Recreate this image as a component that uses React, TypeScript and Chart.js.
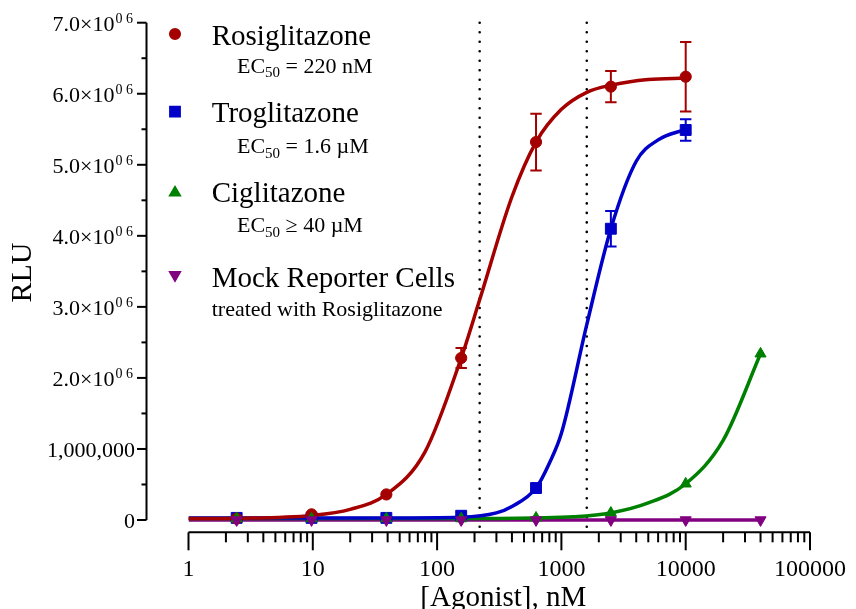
import React, { useEffect, useRef } from "react";
import { Chart, registerables } from "chart.js";
import { drawPoint } from "chart.js/helpers";
Chart.register(...registerables);

// ---------- data ----------
const concentrations = [2.44, 9.77, 39.06, 156.25, 625, 2500, 10000, 40000];

const rosiglitazoneRLU = [20000, 80000, 360000, 2280000, 5320000, 6100000, 6240000];
const rosiglitazoneSD = [0, 0, 0, 140000, 400000, 220000, 490000];
const troglitazoneRLU = [30000, 30000, 30000, 60000, 450000, 4100000, 5490000];
const troglitazoneSD = [0, 0, 0, 0, 0, 250000, 150000];
const ciglitazoneRLU = [20000, 20000, 20000, 20000, 30000, 100000, 510000, 2340000];
const mockRLU = [0, 0, 0, 0, 0, 0, 0, 0];

// fitted curves
const rosiCurveX = [1, 2.44, 9.77, 20, 39.06, 80, 156.25, 220, 400, 625, 1000, 1600, 2500, 5000, 10000];
const rosiCurveY = [20000, 25000, 65000, 150000, 360000, 960000, 2280000, 3100000, 4550000, 5320000, 5780000, 6020000, 6120000, 6200000, 6220000];
const trogCurveX = [1, 39.06, 156.25, 300, 400, 625, 800, 1000, 1600, 2500, 4000, 6000, 10000];
const trogCurveY = [30000, 30000, 40000, 100000, 190000, 450000, 800000, 1220000, 2750000, 4100000, 5050000, 5350000, 5500000];
const cigCurveX = [1, 156.25, 625, 1250, 2500, 5000, 10000, 20000, 40000];
const cigCurveY = [20000, 20000, 30000, 45000, 100000, 240000, 510000, 1120000, 2340000];
const mockCurveX = [1, 40000];
const mockCurveY = [0, 0];

const ec50Lines = [220, 1600];

const xTickValues = [1, 10, 100, 1000, 10000, 100000];
const xTickLabels = ["1", "10", "100", "1000", "10000", "100000"];
const yTickValues = [0, 1000000, 2000000, 3000000, 4000000, 5000000, 6000000, 7000000];
const yTickMain = ["0", "1,000,000", "2.0×10", "3.0×10", "4.0×10", "5.0×10", "6.0×10", "7.0×10"];
const yTickSup = ["", "", "0 6", "0 6", "0 6", "0 6", "0 6", "0 6"];

const seriesNames = ["Rosiglitazone", "Troglitazone", "Ciglitazone", "Mock Reporter Cells"];
const seriesNotes = [
  ["EC", "50", " = 220 nM"],
  ["EC", "50", " = 1.6 µM"],
  ["EC", "50", " ≥ 40 µM"],
  ["treated with Rosiglitazone", "", ""],
];
const seriesColors = ["rgb(165,0,0)", "rgb(0,0,200)", "rgb(0,128,0)", "rgb(128,0,128)"];

// ---------- styles / layout ----------
const FONT = "'Liberation Serif', 'Times New Roman', serif";
const markerStyles = [
  { pointStyle: "circle", radius: 5.6, rotation: 0 },
  { pointStyle: "rect", radius: 7.7, rotation: 0 },
  { pointStyle: "triangle", radius: 6.4, rotation: 0 },
  { pointStyle: "triangle", radius: 6.4, rotation: 180 },
];

const toXY = (xs: number[], ys: number[]) => ys.map((v, i) => ({ x: xs[i], y: v }));

export default function App() {
  const ref = useRef<HTMLCanvasElement | null>(null);

  useEffect(() => {
    document.body.style.margin = "0";
    const canvas = ref.current;
    if (!canvas) return;

    const pointSets = [rosiglitazoneRLU, troglitazoneRLU, ciglitazoneRLU, mockRLU];
    const curveSets = [
      [rosiCurveX, rosiCurveY],
      [trogCurveX, trogCurveY],
      [cigCurveX, cigCurveY],
      [mockCurveX, mockCurveY],
    ];
    const errorSets = [rosiglitazoneSD, troglitazoneSD, null, null];

    const curveDatasets = curveSets.map(([xs, ys], i) => ({
      label: seriesNames[i] + " fit",
      data: toXY(xs, ys),
      borderColor: seriesColors[i],
      backgroundColor: seriesColors[i],
      borderWidth: 3.5,
      pointRadius: 0,
      fill: false,
      cubicInterpolationMode: "monotone" as const,
      order: 2,
    }));
    const drawIdx = [3, 2, 0, 1];
    const pointDatasets = drawIdx.map((i) => ({
      label: seriesNames[i],
      data: toXY(concentrations, pointSets[i]),
      showLine: false,
      borderColor: seriesColors[i],
      backgroundColor: seriesColors[i],
      pointStyle: markerStyles[i].pointStyle as any,
      pointRadius: markerStyles[i].radius,
      pointRotation: markerStyles[i].rotation,
      pointBorderWidth: 1,
      order: 1,
    }));

    const overlay = {
      id: "overlay",
      beforeDatasetsDraw(chart: any) {
        const { ctx, chartArea } = chart;
        const x = chart.scales.x;
        const y = chart.scales.y;
        ctx.save();
        // EC50 dotted lines
        ctx.strokeStyle = "#000";
        ctx.lineWidth = 2.6;
        ctx.lineCap = "round";
        ctx.setLineDash([0.01, 9.5]);
        for (const ec of ec50Lines) {
          const px = x.getPixelForValue(ec);
          ctx.beginPath();
          ctx.moveTo(px, chartArea.top);
          ctx.lineTo(px, chartArea.bottom - 3);
          ctx.stroke();
        }
        ctx.setLineDash([]);
        ctx.lineCap = "butt";
        // error bars
        errorSets.forEach((sd, i) => {
          if (!sd) return;
          ctx.strokeStyle = seriesColors[i];
          ctx.lineWidth = 2;
          pointSets[i].forEach((v, j) => {
            if (!sd[j]) return;
            const px = x.getPixelForValue(concentrations[j]);
            const top = y.getPixelForValue(v + sd[j]);
            const bot = y.getPixelForValue(v - sd[j]);
            ctx.beginPath();
            ctx.moveTo(px, top);
            ctx.lineTo(px, bot);
            ctx.moveTo(px - 5.7, top);
            ctx.lineTo(px + 5.7, top);
            ctx.moveTo(px - 5.7, bot);
            ctx.lineTo(px + 5.7, bot);
            ctx.stroke();
          });
        });
        ctx.restore();
      },
      afterDraw(chart: any) {
        const { ctx, chartArea } = chart;
        const x = chart.scales.x;
        const y = chart.scales.y;
        ctx.save();
        ctx.strokeStyle = "#000";
        ctx.fillStyle = "#000";
        ctx.lineWidth = 2;

        // Y axis (offset to the left of the plot)
        const yAxisX = chartArea.left - 42;
        const yTop = y.getPixelForValue(yTickValues[yTickValues.length - 1]);
        const yBot = y.getPixelForValue(yTickValues[0]);
        ctx.beginPath();
        ctx.moveTo(yAxisX, yTop);
        ctx.lineTo(yAxisX, yBot);
        ctx.stroke();
        for (let k = 0; k < yTickValues.length; k++) {
          const py = y.getPixelForValue(yTickValues[k]);
          ctx.beginPath();
          ctx.moveTo(yAxisX - 9.5, py);
          ctx.lineTo(yAxisX, py);
          ctx.stroke();
          if (k < yTickValues.length - 1) {
            const pm = y.getPixelForValue((yTickValues[k] + yTickValues[k + 1]) / 2);
            ctx.beginPath();
            ctx.moveTo(yAxisX - 5, pm);
            ctx.lineTo(yAxisX, pm);
            ctx.stroke();
          }
          ctx.textAlign = "right";
          ctx.textBaseline = "alphabetic";
          if (yTickSup[k]) {
            ctx.font = `14px ${FONT}`;
            const supRight = yAxisX - 13.5;
            ctx.fillText(yTickSup[k], supRight, py + 0.5);
            const w = ctx.measureText(yTickSup[k]).width;
            ctx.font = `22px ${FONT}`;
            ctx.fillText(yTickMain[k], supRight - w - 1, py + 8.5);
          } else {
            ctx.font = `22px ${FONT}`;
            ctx.fillText(yTickMain[k], yAxisX - 11.5, py + 7.7);
          }
        }

        // X axis
        const xAxisY = chartArea.bottom;
        const xl = x.getPixelForValue(xTickValues[0]);
        const xr = x.getPixelForValue(xTickValues[xTickValues.length - 1]);
        ctx.beginPath();
        ctx.moveTo(xl, xAxisY);
        ctx.lineTo(xr, xAxisY);
        ctx.stroke();
        for (let d = 0; d < xTickValues.length; d++) {
          const base = xTickValues[d];
          const px = x.getPixelForValue(base);
          ctx.beginPath();
          ctx.moveTo(px, xAxisY);
          ctx.lineTo(px, xAxisY + 18);
          ctx.stroke();
          if (d < xTickValues.length - 1) {
            for (let m = 2; m <= 9; m++) {
              const pm = x.getPixelForValue(base * m);
              ctx.beginPath();
              ctx.moveTo(pm, xAxisY);
              ctx.lineTo(pm, xAxisY + 10);
              ctx.stroke();
            }
          }
          ctx.font = `24px ${FONT}`;
          ctx.textAlign = "center";
          ctx.fillText(xTickLabels[d], px, xAxisY + 44);
        }

        // axis titles
        ctx.font = `29px ${FONT}`;
        ctx.textAlign = "center";
        ctx.fillText("[Agonist], nM", (xl + xr) / 2 + 4, 606);
        ctx.save();
        ctx.translate(23, 272.5);
        ctx.rotate(-Math.PI / 2);
        ctx.font = `30px ${FONT}`;
        ctx.textBaseline = "middle";
        ctx.fillText("RLU", 0, 0);
        ctx.restore();

        // legend
        const markerX = 175;
        const markerYs = [34, 111.7, 192.7, 275];
        const nameYs = [45, 121.7, 201.7, 287.3];
        const noteYs = [72.7, 153.3, 232.3, 316];
        const noteXs = [237, 237, 237, 211.7];
        ctx.textAlign = "left";
        ctx.textBaseline = "alphabetic";
        for (let i = 0; i < seriesNames.length; i++) {
          ctx.fillStyle = seriesColors[i];
          ctx.strokeStyle = seriesColors[i];
          drawPoint(ctx, {
            pointStyle: markerStyles[i].pointStyle as any,
            radius: markerStyles[i].radius * 0.9,
            rotation: markerStyles[i].rotation,
            borderWidth: 1,
          }, markerX, markerYs[i]);
          ctx.fillStyle = "#000";
          ctx.font = `29px ${FONT}`;
          ctx.fillText(seriesNames[i], 211.7, nameYs[i]);
          const [a, sub, b] = seriesNotes[i];
          let cx = noteXs[i];
          ctx.font = `22px ${FONT}`;
          ctx.fillText(a, cx, noteYs[i]);
          cx += ctx.measureText(a).width;
          if (sub) {
            ctx.font = `15px ${FONT}`;
            ctx.fillText(sub, cx, noteYs[i] + 4.5);
            cx += ctx.measureText(sub).width;
          }
          if (b) {
            ctx.font = `22px ${FONT}`;
            ctx.fillText(b, cx, noteYs[i]);
          }
        }
        ctx.restore();
      },
    };

    const chart = new Chart(canvas, {
      type: "line",
      data: { datasets: [...pointDatasets, ...curveDatasets] as any },
      options: {
        responsive: false,
        animation: false,
        parsing: true,
        layout: { padding: { left: 188.5, right: 46, top: 22.7, bottom: 76.7 } },
        plugins: { legend: { display: false }, tooltip: { enabled: false } },
        scales: {
          x: { type: "logarithmic", min: 1, max: 100000, display: false },
          y: { type: "linear", min: -173000, max: 7000000, display: false },
        },
      },
      plugins: [overlay],
    });
    return () => chart.destroy();
  }, []);

  return <canvas ref={ref} width={856} height={609} style={{ display: "block" }} />;
}
